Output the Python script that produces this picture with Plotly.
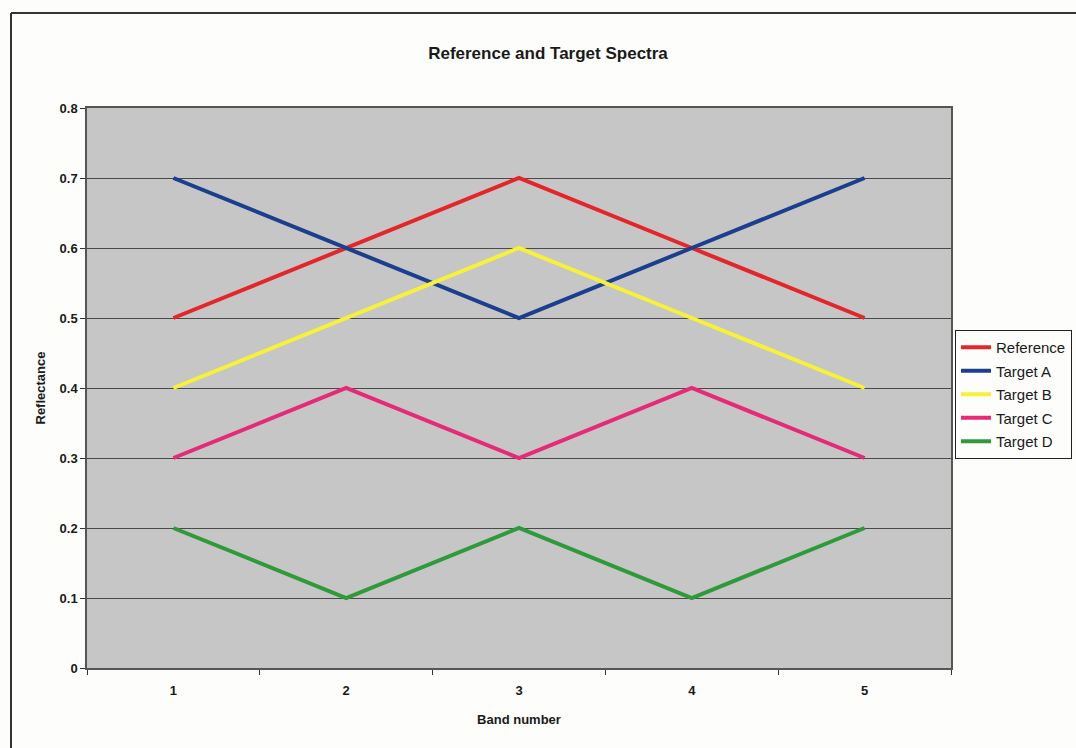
import plotly.graph_objects as go

# Band numbers and reflectance values for each spectrum
bands = ["1", "2", "3", "4", "5"]
reference = [0.5, 0.6, 0.7, 0.6, 0.5]
target_a = [0.7, 0.6, 0.5, 0.6, 0.7]
target_b = [0.4, 0.5, 0.6, 0.5, 0.4]
target_c = [0.3, 0.4, 0.3, 0.4, 0.3]
target_d = [0.2, 0.1, 0.2, 0.1, 0.2]

series_names = ["Reference", "Target A", "Target B", "Target C", "Target D"]
series_values = [reference, target_a, target_b, target_c, target_d]
series_colors = ["#e3262b", "#1c3e8e", "#f7f13a", "#e52a78", "#2f9a3c"]

y_ticks = [0, 0.1, 0.2, 0.3, 0.4, 0.5, 0.6, 0.7, 0.8]

W, H = 1076, 748
L, R, T, B = 87, 951, 108, 668
pw, ph = R - L, B - T

fig = go.Figure()
for i, (name, vals, col) in enumerate(zip(series_names, series_values, series_colors)):
    fig.add_trace(go.Scatter(
        x=bands, y=vals, name=name, mode="lines",
        line=dict(color=col, width=4),
        legendgroup=f"g{i}",
    ))

font_family = "Liberation Sans, Arial, sans-serif"

fig.update_layout(
    width=W, height=H,
    margin=dict(l=L, r=W - R, t=T, b=H - B, autoexpand=False),
    paper_bgcolor="#fdfdfb",
    plot_bgcolor="#c6c6c6",
    font=dict(family=font_family, color="#1a1a1a"),
    title=dict(
        text="<b>Reference and Target Spectra</b>",
        x=548 / W, xanchor="center",
        y=1 - 53 / H, yanchor="middle",
        font=dict(size=17, color="#1a1a1a"),
    ),
    xaxis=dict(
        type="category",
        range=[-0.5, len(bands) - 0.5],
        tickson="boundaries",
        tickvals=bands,
        ticktext=[f"<b>{b}</b>" for b in bands],
        ticks="outside", ticklen=5, tickcolor="#333",
        ticklabelstandoff=10,
        tickfont=dict(size=13, color="#1a1a1a", family=font_family),
        showgrid=False,
        showline=True, linecolor="#555", linewidth=1.5,
        mirror=True,
        title=dict(text="<b>Band number</b>", font=dict(size=13), standoff=18),
        zeroline=False,
    ),
    yaxis=dict(
        range=[0, 0.8],
        tickvals=y_ticks,
        ticktext=[f"<b>{v:g}</b>" for v in y_ticks],
        ticks="outside", ticklen=5, tickcolor="#333",
        tickfont=dict(size=13, color="#1a1a1a"),
        showgrid=True, gridcolor="#4a4a4a", gridwidth=1.2,
        showline=True, linecolor="#555", linewidth=1.5,
        mirror=True,
        zeroline=False,
        title=dict(text="<b>Reflectance</b>", font=dict(size=13), standoff=11),
    ),
    legend=dict(
        x=(955 - L) / pw, xanchor="left",
        y=(B - 330) / ph, yanchor="top",
        bgcolor="#fdfdfb",
        bordercolor="#222", borderwidth=1,
        font=dict(size=15, color="#1a1a1a"),
        traceorder="grouped",
        tracegroupgap=1,
        itemwidth=30,
    ),
    showlegend=True,
)

# Outer frame (left and top edges)
fig.add_shape(type="line", xref="paper", yref="paper",
              x0=(11 - L) / pw, x1=(11 - L) / pw,
              y0=(B - 13) / ph, y1=(B - H - 5) / ph,
              line=dict(color="#333", width=2))
fig.add_shape(type="line", xref="paper", yref="paper",
              x0=(11 - L) / pw, x1=(W + 5 - L) / pw,
              y0=(B - 13) / ph, y1=(B - 13) / ph,
              line=dict(color="#333", width=2))

fig.write_html("out.html")
